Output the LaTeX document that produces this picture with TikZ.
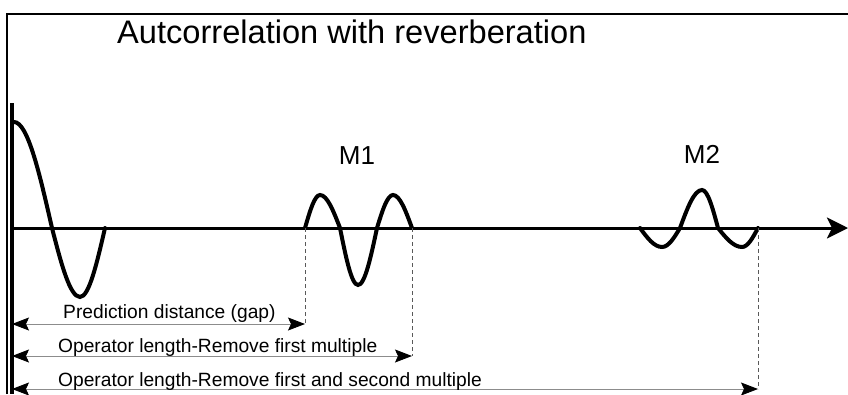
\documentclass[tikz,border=0pt]{standalone}
\usepackage{fontspec}
\setmainfont{Liberation Sans}
\usetikzlibrary{positioning}
\usetikzlibrary{arrows.meta}

\tikzset{
  wave/.style={line width=4pt, line cap=round},
  gap/.style={draw=black!45, line width=0.9pt,
    {Stealth[length=17pt,width=13pt,inset=3pt,color=black]}-{Stealth[length=17pt,width=13pt,inset=3pt,color=black]}},
  drop/.style={draw=black!65, line width=0.9pt, dash pattern=on 4pt off 3pt},
  lbl/.style={font=\fontsize{19.2}{21}\selectfont, anchor=base west, inner sep=0pt},
  mlbl/.style={font=\fontsize{26}{28}\selectfont, anchor=base, inner sep=0pt}
}

\begin{document}
\begin{tikzpicture}[x=1pt, y=-1pt]
    \useasboundingbox (0,0) rectangle (848,394);

    \draw[line width=2pt] (7,394) -- (7,14) -- (848,14);
    \node[font=\fontsize{32.6}{34}\selectfont, anchor=base west, inner sep=0pt] (title) at (117,43) {Autcorrelation with reverberation};

    \coordinate (o) at (12,228);
    \coordinate (tend) at (848,228);
    \coordinate (ytop) at (12,103);
    \coordinate (ybot) at (12,394);
    \coordinate (m1s) at (305,228);
    \coordinate (m1e) at (412,228);
    \coordinate (m2e) at (758,228);

    \coordinate (g0) at (12,324);
    \coordinate (g1) at (305,324);
    \coordinate (r0) at (12,356);
    \coordinate (r1) at (412,356);
    \coordinate (s0) at (12,389);
    \coordinate (s1) at (758,389);

    \draw[line width=4pt] (ytop) -- (ybot);
    \draw[line width=3pt, -{Stealth[length=21pt,width=21pt,inset=5pt]}] (o) -- (tend);

    \draw[wave] (14,122) cos (52,228) sin (80,297) cos (105,228);
    \draw[wave] (m1s) sin (320,195) cos (340,228) sin (358,285) cos (377,228) sin (393,195) cos (m1e);
    \draw[wave] (640,228) sin (662,247) cos (680,228) sin (702,190) cos (718,228) sin (742,247) cos (m2e);

    \node[mlbl] (m1) at (357,164) {M1};
    \node[mlbl] (m2) at (702,163) {M2};

    \draw[drop] (m1s) -- (g1);
    \draw[drop] (m1e) -- (r1);
    \draw[drop] (m2e) -- (s1);

    \draw[gap] (g0) -- (g1);
    \draw[gap] (r0) -- (r1);
    \draw[gap] (s0) -- (s1);

    \node[lbl] (gtxt) at (63,318) {Prediction distance (gap)};
    \node[lbl] (rtxt) at (58,352) {Operator length-Remove first multiple};
    \node[lbl] (stxt) at (58,386) {Operator length-Remove first and second multiple};
\end{tikzpicture}
\end{document}
